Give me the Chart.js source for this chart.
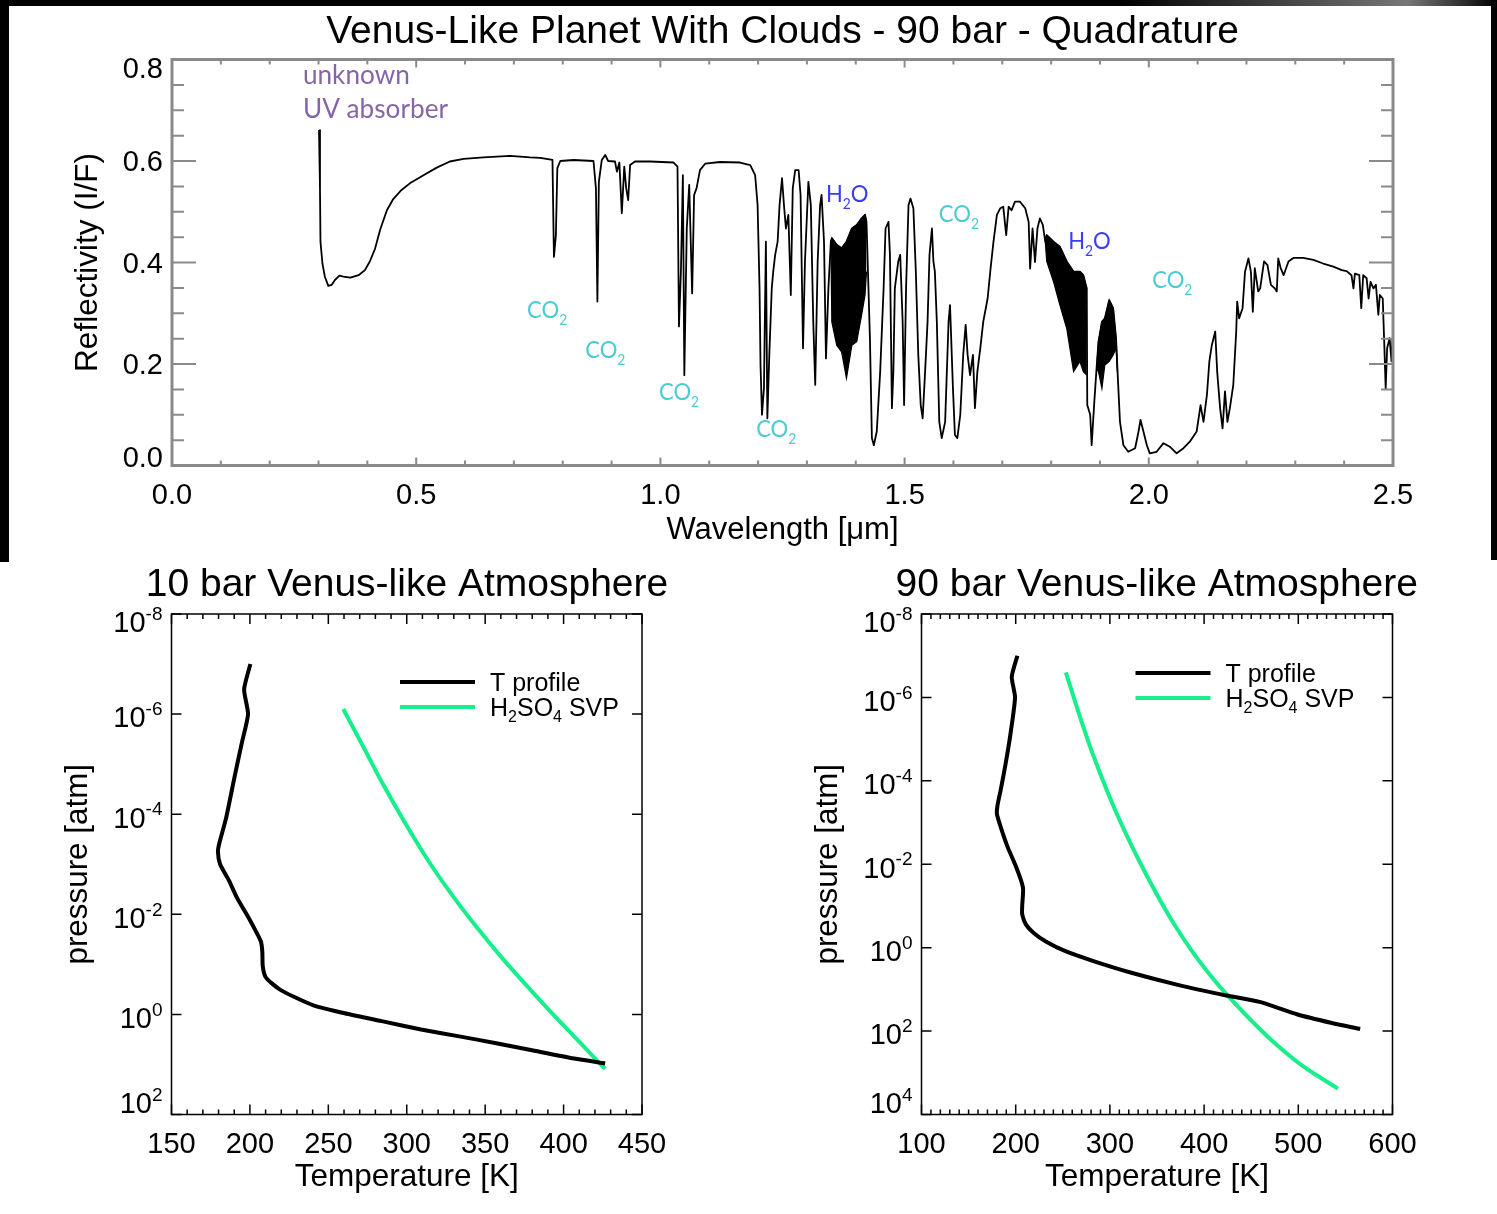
<!DOCTYPE html>
<html>
<head>
<meta charset="utf-8">
<script src="https://cdn.jsdelivr.net/npm/chart.js@4.4.1/dist/chart.umd.min.js"></script>
<style>
  html, body { margin: 0; padding: 0; background: #fff; overflow: hidden; }
  #page { position: relative; width: 1497px; height: 1214px; background: #fff; overflow: hidden; }
  canvas { position: absolute; }
  .edge { position: absolute; background: #000; }
</style>
</head>
<body>
<div id="page">
  <canvas id="spectrum" width="1497" height="560" style="left:0;top:0"></canvas>
  <canvas id="venus10" width="814" height="654" style="left:0;top:560px"></canvas>
  <canvas id="venus90" width="813" height="654" style="left:750px;top:560px"></canvas>
  <div class="edge" style="left:0;top:0;width:1497px;height:6px;background:linear-gradient(to right,#000 0%,#000 75%,#777 94%,#000 100%)"></div>
  <div class="edge" style="left:0;top:0;width:9px;height:562px"></div>
  <div class="edge" style="left:1491px;top:0;width:6px;height:560px"></div>
</div>
<script>
// ---- top panel: reflectivity spectrum ----
const wavelength = [
  0.301, 0.303, 0.304, 0.308, 0.313, 0.320, 0.327, 0.334, 0.343, 0.351,
  0.365, 0.382, 0.395, 0.405, 0.416, 0.426, 0.440, 0.453, 0.470, 0.487,
  0.515, 0.542, 0.569, 0.597, 0.638, 0.692, 0.733, 0.754, 0.779, 0.782,
  0.786, 0.789, 0.795, 0.822, 0.863, 0.868, 0.871, 0.874, 0.880, 0.887,
  0.893, 0.907, 0.911, 0.916, 0.921, 0.926, 0.930, 0.934, 0.938, 0.948,
  0.979, 1.027, 1.035, 1.038, 1.042, 1.046, 1.049, 1.054, 1.059, 1.065,
  1.069, 1.074, 1.081, 1.092, 1.122, 1.163, 1.184, 1.194, 1.199, 1.203,
  1.205, 1.208, 1.212, 1.216, 1.219, 1.223, 1.228, 1.231, 1.235, 1.240,
  1.244, 1.249, 1.253, 1.257, 1.262, 1.267, 1.271, 1.276, 1.283, 1.287,
  1.292, 1.296, 1.303, 1.308, 1.313, 1.317, 1.322, 1.327, 1.330, 1.335,
  1.339, 1.344, 1.349, 1.351, 1.361, 1.371, 1.381, 1.392, 1.402, 1.412,
  1.419, 1.422, 1.426, 1.429, 1.433, 1.437, 1.443, 1.450, 1.457, 1.461,
  1.467, 1.470, 1.474, 1.477, 1.480, 1.487, 1.491, 1.496, 1.499, 1.503,
  1.508, 1.512, 1.518, 1.523, 1.528, 1.533, 1.537, 1.542, 1.547, 1.551,
  1.556, 1.559, 1.562, 1.566, 1.571, 1.576, 1.583, 1.590, 1.593, 1.599,
  1.603, 1.608, 1.614, 1.620, 1.625, 1.629, 1.634, 1.640, 1.644, 1.649,
  1.655, 1.661, 1.670, 1.676, 1.682, 1.689, 1.696, 1.702, 1.708, 1.713,
  1.719, 1.726, 1.736, 1.747, 1.754, 1.757, 1.762, 1.767, 1.772, 1.777,
  1.783, 1.788, 1.791, 1.805, 1.818, 1.832, 1.846, 1.859, 1.866, 1.873,
  1.874, 1.880, 1.883, 1.888, 1.893, 1.897, 1.904, 1.910, 1.919, 1.927,
  1.933, 1.936, 1.941, 1.948, 1.958, 1.972, 1.979, 1.983, 1.989, 1.996,
  2.002, 2.016, 2.030, 2.043, 2.057, 2.071, 2.084, 2.098, 2.106, 2.112,
  2.119, 2.124, 2.129, 2.136, 2.140, 2.146, 2.151, 2.156, 2.161, 2.166,
  2.173, 2.179, 2.181, 2.185, 2.192, 2.197, 2.204, 2.209, 2.213, 2.217,
  2.224, 2.228, 2.236, 2.243, 2.250, 2.258, 2.262, 2.265, 2.270, 2.276,
  2.286, 2.296, 2.316, 2.337, 2.357, 2.378, 2.395, 2.405, 2.415, 2.419,
  2.422, 2.431, 2.435, 2.439, 2.446, 2.450, 2.454, 2.460, 2.465, 2.470,
  2.473, 2.479, 2.482, 2.485, 2.488, 2.493, 2.497, 2.499
];
const reflectivity = [
  0.661, 0.546, 0.441, 0.398, 0.372, 0.354, 0.356, 0.366, 0.374, 0.372,
  0.370, 0.375, 0.385, 0.402, 0.428, 0.464, 0.503, 0.525, 0.543, 0.556,
  0.572, 0.587, 0.599, 0.604, 0.607, 0.610, 0.607, 0.606, 0.602, 0.411,
  0.454, 0.586, 0.600, 0.602, 0.600, 0.546, 0.323, 0.559, 0.602, 0.612,
  0.600, 0.599, 0.579, 0.597, 0.497, 0.589, 0.546, 0.523, 0.592, 0.599,
  0.599, 0.597, 0.589, 0.274, 0.382, 0.572, 0.178, 0.467, 0.553, 0.339,
  0.533, 0.546, 0.582, 0.595, 0.598, 0.597, 0.592, 0.572, 0.513, 0.349,
  0.198, 0.100, 0.152, 0.441, 0.093, 0.218, 0.349, 0.382, 0.415, 0.441,
  0.513, 0.566, 0.513, 0.467, 0.494, 0.336, 0.546, 0.582, 0.582, 0.533,
  0.231, 0.402, 0.559, 0.513, 0.283, 0.159, 0.402, 0.513, 0.533, 0.441,
  0.211, 0.349, 0.441, 0.448, 0.435, 0.428, 0.441, 0.467, 0.474, 0.487,
  0.494, 0.480, 0.349, 0.251, 0.054, 0.040, 0.067, 0.185, 0.349, 0.467,
  0.480, 0.415, 0.113, 0.185, 0.349, 0.402, 0.415, 0.283, 0.119, 0.349,
  0.513, 0.526, 0.507, 0.382, 0.218, 0.119, 0.093, 0.185, 0.283, 0.415,
  0.467, 0.402, 0.382, 0.283, 0.086, 0.054, 0.086, 0.283, 0.316, 0.152,
  0.060, 0.054, 0.100, 0.218, 0.277, 0.218, 0.178, 0.218, 0.113, 0.185,
  0.231, 0.283, 0.329, 0.388, 0.441, 0.494, 0.507, 0.510, 0.454, 0.510,
  0.503, 0.520, 0.520, 0.507, 0.480, 0.388, 0.467, 0.401, 0.467, 0.487,
  0.474, 0.441, 0.454, 0.441, 0.431, 0.402, 0.382, 0.382, 0.375, 0.349,
  0.119, 0.100, 0.040, 0.119, 0.191, 0.244, 0.283, 0.290, 0.326, 0.310,
  0.250, 0.185, 0.086, 0.040, 0.027, 0.034, 0.067, 0.090, 0.067, 0.040,
  0.024, 0.027, 0.044, 0.037, 0.024, 0.034, 0.047, 0.067, 0.119, 0.086,
  0.139, 0.205, 0.237, 0.264, 0.185, 0.113, 0.073, 0.146, 0.086, 0.113,
  0.159, 0.264, 0.323, 0.290, 0.310, 0.382, 0.408, 0.382, 0.303, 0.389,
  0.343, 0.349, 0.402, 0.395, 0.356, 0.349, 0.343, 0.408, 0.389, 0.375,
  0.402, 0.409, 0.409, 0.405, 0.398, 0.392, 0.385, 0.383, 0.375, 0.349,
  0.378, 0.375, 0.310, 0.375, 0.369, 0.329, 0.362, 0.349, 0.356, 0.297,
  0.336, 0.329, 0.244, 0.152, 0.231, 0.251, 0.205, 0.251
];

// dense water-band forests: upper and lower envelope of the unresolved lines
const band1Wave = [1.349, 1.351, 1.361, 1.371, 1.381, 1.392, 1.402, 1.412, 1.419, 1.422];
const band1Top  = [0.441, 0.448, 0.435, 0.428, 0.441, 0.467, 0.474, 0.487, 0.494, 0.480];
const band1Bot  = [0.441, 0.283, 0.237, 0.224, 0.172, 0.237, 0.244, 0.297, 0.336, 0.382];
const band2Wave = [1.788, 1.791, 1.805, 1.818, 1.832, 1.846, 1.859, 1.866, 1.873];
const band2Top  = [0.441, 0.454, 0.441, 0.431, 0.402, 0.382, 0.382, 0.375, 0.349];
const band2Bot  = [0.441, 0.402, 0.362, 0.316, 0.270, 0.185, 0.205, 0.185, 0.178];
const band3Wave = [1.893, 1.897, 1.904, 1.910, 1.919, 1.927, 1.933, 1.936];
const band3Top  = [0.191, 0.244, 0.283, 0.290, 0.326, 0.310, 0.250, 0.185];
const band3Bot  = [0.191, 0.185, 0.152, 0.198, 0.205, 0.218, 0.231, 0.185];

// ---- bottom panels: temperature profiles and H2SO4 vapour pressure ----
const tempProfile10  = [200.3, 196.3, 198.8, 194.8, 190.2, 184.8, 180.5, 179.6, 181.0, 186.6,
                        191.8, 197.9, 202.4, 207.0, 207.9, 208.2, 210.0, 214.0, 219.2, 228.4,
                        240.5, 260.4, 284.8, 309.1, 333.5, 357.9, 382.3, 406.7, 426.5];
const pressProfile10 = [1.0e-7, 3.2e-7, 1.0e-6, 3.8e-6, 1.8e-5, 1.2e-4, 3.8e-4, 5.6e-4, 1.0e-3, 2.1e-3,
                        4.7e-3, 1.0e-2, 1.8e-2, 3.5e-2, 5.6e-2, 0.11, 0.18, 0.24, 0.32, 0.45,
                        0.66, 0.95, 1.38, 2.0, 2.75, 3.8, 5.4, 7.6, 9.5];
const svpTemp10  = [259.5, 272.6, 284.8, 300.0, 315.2, 330.5, 345.7, 361.0, 376.2, 391.5, 406.7, 417.4, 426.5];
const svpPress10 = [7.9e-7, 4.7e-6, 2.5e-5, 1.7e-4, 1.0e-3, 4.8e-3, 2.0e-2, 7.6e-2, 0.26, 0.87, 2.75, 6.2, 12.3];

const tempProfile90  = [201.8, 195.8, 199.3, 194.3, 189.2, 184.2, 180.6, 180.1, 184.2, 191.7,
                        199.3, 205.8, 207.9, 206.9, 206.9, 210.9, 219.4, 232.0, 252.2, 282.5,
                        322.8, 373.2, 423.6, 458.9, 499.2, 534.5, 565.7];
const pressProfile90 = [1.0e-7, 3.2e-7, 1.0e-6, 7.9e-6, 4.0e-5, 1.6e-4, 4.0e-4, 6.3e-4, 1.3e-3, 4.0e-3,
                        1.0e-2, 2.5e-2, 4.0e-2, 0.10, 0.16, 0.28, 0.45, 0.71, 1.2, 2.1,
                        4.0, 7.9, 14, 20, 40, 63, 89];
const svpTemp90  = [253.2, 267.3, 282.5, 302.6, 317.7, 332.9, 350.5, 368.1, 388.3, 408.5, 426.1, 448.8, 474.0, 504.2, 542.0];
const svpPress90 = [2.5e-7, 2.5e-6, 2.5e-5, 3.5e-4, 2.0e-3, 1.0e-2, 5.6e-2, 0.27, 1.32, 5.2, 15, 52, 186, 676, 2400];

const pressureTicks10 = [1e-8, 1e-6, 1e-4, 1e-2, 1e0, 1e2];
const pressureTicks90 = [1e-8, 1e-6, 1e-4, 1e-2, 1e0, 1e2, 1e4];
const reflectTicks = [0, 0.2, 0.4, 0.6, 0.8];

const FONT = 'Liberation Sans, Arial, Helvetica, sans-serif';
const SVP_GREEN = '#17ef8c';

function pairs(xs, ys) {
  return xs.map((x, i) => ({ x: x, y: ys[i] }));
}
function steps(a, b, d) {
  const out = [];
  for (let v = a; v <= b + d / 1000; v += d) out.push(+v.toFixed(6));
  return out;
}

// text with _{sub} and ^{sup} pieces, drawn on the canvas
function drawRich(ctx, str, x, y, o) {
  const parts = [];
  const re = /([_^])\{([^}]*)\}|([^_^]+)/g;
  let m;
  while ((m = re.exec(str)) !== null) {
    if (m[3] !== undefined) parts.push({ t: m[3], k: 'n' });
    else parts.push({ t: m[2], k: m[1] === '_' ? 'sub' : 'sup' });
  }
  const small = o.small || 0.62;
  const fontOf = p => (p.k === 'n' ? o.size : Math.round(o.size * small)) + 'px ' + o.family;
  let total = 0;
  parts.forEach(p => { ctx.font = fontOf(p); p.w = ctx.measureText(p.t).width; total += p.w; });
  ctx.save();
  ctx.translate(x, y);
  ctx.scale(o.stretch || 1, 1);
  ctx.fillStyle = o.color || '#000';
  ctx.textAlign = 'left';
  ctx.textBaseline = 'alphabetic';
  let cx = o.align === 'right' ? -total : (o.align === 'center' ? -total / 2 : 0);
  parts.forEach(p => {
    ctx.font = fontOf(p);
    const dy = p.k === 'sub' ? o.size * (o.drop || 0.25) : (p.k === 'sup' ? -o.size * (o.rise || 0.45) : 0);
    ctx.fillText(p.t, cx, dy);
    cx += p.w;
  });
  ctx.restore();
}

// IDL-style box with inward ticks on all four sides
function frameTicks(cfg) {
  return {
    id: 'frameTicks',
    afterDatasetsDraw(chart) {
      const { ctx, chartArea: a, scales } = chart;
      const x = scales.x, y = scales.y;
      ctx.save();
      ctx.strokeStyle = cfg.color;
      ctx.lineWidth = cfg.tickWidth;
      ctx.beginPath();
      const xt = (vals, len) => vals.forEach(v => {
        const px = x.getPixelForValue(v);
        ctx.moveTo(px, a.bottom); ctx.lineTo(px, a.bottom - len);
        ctx.moveTo(px, a.top); ctx.lineTo(px, a.top + len);
      });
      const yt = (vals, len) => vals.forEach(v => {
        const py = y.getPixelForValue(v);
        ctx.moveTo(a.left, py); ctx.lineTo(a.left + len, py);
        ctx.moveTo(a.right, py); ctx.lineTo(a.right - len, py);
      });
      xt(cfg.xMinor, cfg.xMinorLen); xt(cfg.xMajor, cfg.xLen);
      yt(cfg.yMinor, cfg.yMinorLen); yt(cfg.yMajor, cfg.yLen);
      ctx.stroke();
      ctx.lineWidth = cfg.width;
      ctx.strokeRect(a.left, a.top, a.right - a.left, a.bottom - a.top);
      ctx.restore();
    }
  };
}

// y tick labels drawn by hand so exponents can be raised
function yLabels(cfg) {
  return {
    id: 'yLabels',
    afterDraw(chart) {
      const { ctx, chartArea: a, scales } = chart;
      const n = cfg.values.length;
      cfg.values.forEach((v, i) => {
        let shift = cfg.shift;
        if (i === 0) shift = cfg.firstShift;
        if (i === n - 1) shift = cfg.lastShift;
        const py = scales.y.getPixelForValue(v) + shift;
        drawRich(ctx, cfg.format(v), a.left - cfg.gap, py + 0.358 * cfg.size,
          { size: cfg.size, family: FONT, align: 'right', small: 0.64, rise: 0.42 });
      });
    }
  };
}

// species labels placed in data coordinates
function speciesNotes(notes) {
  return {
    id: 'speciesNotes',
    afterDraw(chart) {
      const { ctx, scales } = chart;
      notes.forEach(nt => {
        drawRich(ctx, nt.text, scales.x.getPixelForValue(nt.x), scales.y.getPixelForValue(nt.y),
          { size: nt.size || 24, family: 'Lato, Open Sans, sans-serif', color: nt.color, small: 0.62, drop: 0.28, stretch: nt.stretch || 0.92 });
      });
    }
  };
}

// little line legend in the upper right of the profile panels
function curveLegend(cfg) {
  return {
    id: 'curveLegend',
    afterDraw(chart) {
      const { ctx, chartArea: a } = chart;
      cfg.items.forEach((it, i) => {
        const x0 = a.left + cfg.dx;
        const y0 = a.top + cfg.dy + i * cfg.rowGap;
        ctx.save();
        ctx.strokeStyle = it.color;
        ctx.lineWidth = 4;
        ctx.beginPath(); ctx.moveTo(x0, y0); ctx.lineTo(x0 + 75, y0); ctx.stroke();
        ctx.restore();
        drawRich(ctx, it.text, x0 + 90, y0 + 0.358 * 25, { size: 25, family: FONT, small: 0.62, drop: 0.26 });
      });
    }
  };
}

const PURPLE = '#8466a8', CYAN = '#4ccbd4', BLUE = '#3a3cf8';

new Chart(document.getElementById('spectrum'), {
  type: 'line',
  data: {
    datasets: [
      { data: pairs(wavelength, reflectivity), borderColor: '#000', borderWidth: 1.8, pointRadius: 0, tension: 0, fill: false, borderJoinStyle: 'round' },
      { data: pairs(band1Wave, band1Top), borderColor: '#000', borderWidth: 1.2, pointRadius: 0, fill: false },
      { data: pairs(band1Wave, band1Bot), borderColor: '#000', borderWidth: 1.2, pointRadius: 0, fill: '-1', backgroundColor: '#000' },
      { data: pairs(band2Wave, band2Top), borderColor: '#000', borderWidth: 1.2, pointRadius: 0, fill: false },
      { data: pairs(band2Wave, band2Bot), borderColor: '#000', borderWidth: 1.2, pointRadius: 0, fill: '-1', backgroundColor: '#000' },
      { data: pairs(band3Wave, band3Top), borderColor: '#000', borderWidth: 1.2, pointRadius: 0, fill: false },
      { data: pairs(band3Wave, band3Bot), borderColor: '#000', borderWidth: 1.2, pointRadius: 0, fill: '-1', backgroundColor: '#000' }
    ]
  },
  options: {
    responsive: false,
    animation: false,
    devicePixelRatio: 1,
    layout: { padding: { left: 60, right: 104, top: 0, bottom: 10 } },
    plugins: {
      legend: { display: false },
      tooltip: { enabled: false },
      title: {
        display: true, fullSize: false,
        text: 'Venus-Like Planet With Clouds - 90 bar - Quadrature',
        color: '#000', font: { family: FONT, size: 39, weight: 'normal' },
        padding: { top: 8.6, bottom: 4.1 }
      }
    },
    scales: {
      x: {
        type: 'linear', min: 0, max: 2.5,
        grid: { display: false, drawTicks: false }, border: { display: false },
        ticks: { stepSize: 0.5, color: '#000', font: { family: FONT, size: 29 }, padding: 13, maxRotation: 0, callback: v => v.toFixed(1) },
        title: { display: true, text: 'Wavelength [\u03bcm]', color: '#000', font: { family: FONT, size: 31 }, padding: { top: 0, bottom: 1.4 } },
        afterFit: s => { s.height = 84.5; }
      },
      y: {
        type: 'linear', min: 0, max: 0.8,
        grid: { display: false, drawTicks: false }, border: { display: false },
        ticks: { display: false },
        title: { display: true, text: 'Reflectivity (I/F)', color: '#000', font: { family: FONT, size: 31.5 }, padding: { top: 9.1, bottom: 0 } },
        afterFit: s => { s.width = 112; }
      }
    }
  },
  plugins: [
    frameTicks({ color: '#8a8a8a', width: 3, tickWidth: 2,
      xMajor: steps(0, 2.5, 0.5), xMinor: steps(0, 2.5, 0.1), xLen: 8, xMinorLen: 5,
      yMajor: reflectTicks, yMinor: steps(0, 0.8, 0.05), yLen: 24, yMinorLen: 12 }),
    yLabels({ values: reflectTicks, format: v => v.toFixed(1), size: 29, gap: 9, shift: 0, firstShift: -8.5, lastShift: 8.5 }),
    speciesNotes([
      { text: 'unknown', x: 0.268, y: 0.752, color: PURPLE, size: 27, stretch: 0.97 },
      { text: 'UV absorber', x: 0.268, y: 0.685, color: PURPLE, size: 27, stretch: 0.97 },
      { text: 'CO_{2}', x: 0.727, y: 0.291, color: CYAN },
      { text: 'CO_{2}', x: 0.846, y: 0.212, color: CYAN },
      { text: 'CO_{2}', x: 0.997, y: 0.129, color: CYAN },
      { text: 'CO_{2}', x: 1.196, y: 0.056, color: CYAN },
      { text: 'H_{2}O', x: 1.339, y: 0.519, color: BLUE },
      { text: 'CO_{2}', x: 1.570, y: 0.480, color: CYAN },
      { text: 'H_{2}O', x: 1.835, y: 0.427, color: BLUE },
      { text: 'CO_{2}', x: 2.007, y: 0.350, color: CYAN }
    ])
  ]
});

// an empty right-hand axis balances the left one so the title sits centred over the box
function atmosphereChart(id, title, tMin, tMax, tStep, pMax, pTicks, profT, profP, svpT, svpP, padRight, rightWidth, leg) {
  return new Chart(document.getElementById(id), {
    type: 'line',
    data: {
      datasets: [
        { data: pairs(profT, profP), borderColor: '#000', borderWidth: 4, pointRadius: 0, tension: 0.2, fill: false },
        { data: pairs(svpT, svpP), borderColor: SVP_GREEN, borderWidth: 4, pointRadius: 0, tension: 0.3, fill: false }
      ]
    },
    options: {
      responsive: false,
      animation: false,
      devicePixelRatio: 1,
      layout: { padding: { left: 40, right: padRight, top: 0, bottom: 10 } },
      plugins: {
        legend: { display: false },
        tooltip: { enabled: false },
        title: {
          display: true, text: title, color: '#000',
          font: { family: FONT, size: 39, weight: 'normal' },
          padding: { top: 1.6, bottom: 5.6 }
        }
      },
      scales: {
        x: {
          type: 'linear', min: tMin, max: tMax,
          grid: { display: false, drawTicks: false }, border: { display: false },
          ticks: { stepSize: tStep, color: '#000', font: { family: FONT, size: 29 }, padding: 13.5, maxRotation: 0 },
          title: { display: true, text: 'Temperature [K]', color: '#000', font: { family: FONT, size: 31.5 }, padding: { top: 0, bottom: 8.1 } },
          afterFit: s => { s.height = 89.5; }
        },
        y: {
          type: 'logarithmic', min: 1e-8, max: pMax, reverse: true,
          grid: { display: false, drawTicks: false }, border: { display: false },
          ticks: { display: false },
          title: { display: true, text: 'pressure [atm]', color: '#000', font: { family: FONT, size: 31.4 }, padding: { top: 19.2, bottom: 0 } },
          afterFit: s => { s.width = 131.5; }
        },
        yRight: {
          type: 'linear', position: 'right', display: true,
          grid: { display: false, drawTicks: false }, border: { display: false },
          ticks: { display: false },
          afterFit: s => { s.width = rightWidth; }
        }
      }
    },
    plugins: [
      frameTicks({ color: '#000', width: 1.5, tickWidth: 1.5,
        xMajor: steps(tMin, tMax, tStep), xMinor: steps(tMin, tMax, 10), xLen: 10, xMinorLen: 5,
        yMajor: pTicks, yMinor: [], yLen: 10, yMinorLen: 5 }),
      yLabels({ values: pTicks, format: v => '10^{' + Math.round(Math.log10(v)) + '}', size: 29, gap: 9, shift: 3, firstShift: 8, lastShift: -12 }),
      curveLegend({ dx: leg.dx, dy: leg.dy, rowGap: 25, items: [
        { text: 'T profile', color: '#000' },
        { text: 'H_{2}SO_{4} SVP', color: SVP_GREEN }
      ] })
    ]
  });
}

atmosphereChart('venus10', '10 bar Venus-like Atmosphere', 150, 450, 50, 1e2, pressureTicks10,
  tempProfile10, pressProfile10, svpTemp10, svpPress10, 40, 132, { dx: 228.5, dy: 68 });
atmosphereChart('venus90', '90 bar Venus-like Atmosphere', 100, 600, 100, 1e4, pressureTicks90,
  tempProfile90, pressProfile90, svpTemp90, svpPress90, 39.5, 131, { dx: 214, dy: 59 });
</script>
</body>
</html>
